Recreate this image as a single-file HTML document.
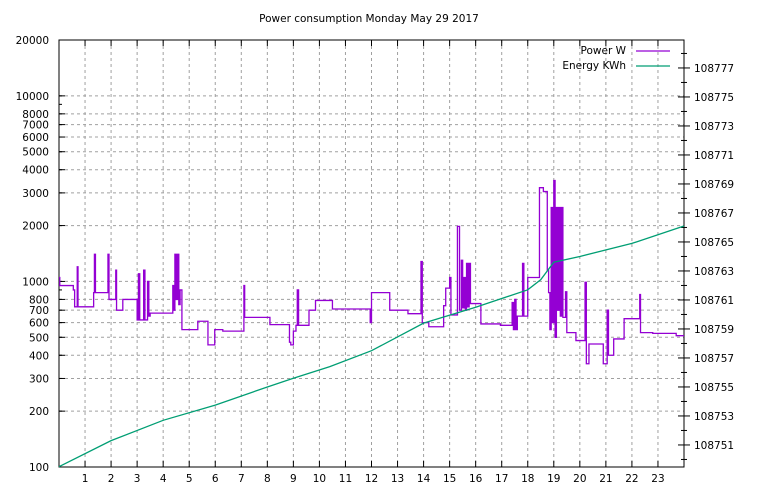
<!DOCTYPE html>
<html><head><meta charset="utf-8"><style>
body{margin:0;background:#fff}
svg{display:block;font-family:"DejaVu Sans","Liberation Sans",sans-serif;font-size:10.5px}
</style></head><body>
<svg id="chart" width="768" height="500">
<text x="369" y="22" text-anchor="middle">Power consumption Monday May 29 2017</text>
</svg>
<script>
const hours=[0,0.03,0.5,0.55,0.6,0.7,0.73,1.3,1.33,1.36,1.4,1.85,1.88,1.92,2.15,2.18,2.21,2.45,3.0,3.05,3.1,3.2,3.25,3.3,3.4,3.45,3.5,4.37,4.42,4.45,4.5,4.55,4.6,4.65,4.72,5.33,5.72,5.98,6.29,7.1,7.13,8.1,8.85,8.9,9.0,9.1,9.15,9.2,9.6,9.85,10.5,11.95,12.0,12.7,13.4,13.9,13.95,14.2,14.77,14.85,15.0,15.05,15.3,15.38,15.45,15.5,15.55,15.6,15.65,15.7,15.75,15.8,16.2,16.95,17.4,17.45,17.5,17.55,17.6,17.8,17.85,18.0,18.45,18.6,18.75,18.8,18.85,18.9,18.95,19.0,19.05,19.1,19.15,19.2,19.25,19.3,19.35,19.45,19.5,19.85,20.2,20.25,20.35,20.9,21.05,21.1,21.3,21.7,22.3,22.33,22.8,23.7,24];
const watts=[1050,950,950,900,730,1200,730,730,870,1400,870,870,1400,800,800,1150,700,800,620,1100,620,620,1150,620,1000,650,675,950,700,1400,800,1400,750,900,550,610,455,550,540,950,640,585,470,455,540,580,900,580,700,790,710,600,870,700,670,1280,600,570,740,920,1050,660,1980,700,1300,720,1050,700,1250,730,1250,760,590,580,770,550,800,550,650,1250,650,1050,3200,3050,1150,870,550,2500,600,3500,500,2500,700,2500,650,2500,640,880,530,480,990,360,460,360,700,400,490,630,850,530,525,510,510];
const eHours=[0,2,4,6,8,9,10.4,12,14,16,17,18,18.5,19,20,22,24];
const eValues=[108749.5,108751.3,108752.7,108753.75,108755,108755.6,108756.4,108757.5,108759.4,108760.5,108761.1,108761.7,108762.4,108763.6,108764.0,108764.9,108766.1];
const yTicks=[100,200,300,400,500,600,700,800,1000,2000,3000,4000,5000,6000,7000,8000,10000,20000];
const y2Ticks=[108751,108753,108755,108757,108759,108761,108763,108765,108767,108769,108771,108773,108775,108777];
const xTicks=[1,2,3,4,5,6,7,8,9,10,11,12,13,14,15,16,17,18,19,20,21,22,23];

const L=59,R=684,T=40,B=467;
const X=h=>L+(h/24)*(R-L);
const Y=w=>B-(Math.log10(w)-2)/(Math.log10(20000)-2)*(B-T);
const Y2=v=>B-(v-108749.48)*14.5;
const svg=document.getElementById('chart');
const NS='http://www.w3.org/2000/svg';
function mk(t,a,txt){const e=document.createElementNS(NS,t);for(const k in a)e.setAttribute(k,a[k]);if(txt!==undefined)e.textContent=txt;svg.appendChild(e);return e;}

xTicks.forEach(h=>{const g=mk('line',{x1:X(h),x2:X(h),y1:T,y2:B,stroke:'#a0a0a0','stroke-dasharray':'3,3','stroke-width':1});

});
yTicks.forEach(w=>{const g=mk('line',{x1:L,x2:R,y1:Y(w),y2:Y(w),stroke:'#a0a0a0','stroke-dasharray':'3,3','stroke-width':1});

});

for(let d=100;d<=10000;d*=10){for(let k=1;k<10;k++){const w=d*k;if(w>20000)break;
const m=mk('line',{x1:L,x2:L+3,y1:Y(w),y2:Y(w),stroke:'#000'});

}}
yTicks.forEach(w=>{const t=mk('line',{x1:L,x2:L+6,y1:Y(w),y2:Y(w),stroke:'#000'});


const lb=mk('text',{x:L-10,y:Y(w)+4,'text-anchor':'end'},String(w));

});
xTicks.forEach(h=>{const t=mk('line',{x1:X(h),x2:X(h),y1:B,y2:B-6,stroke:'#000'});


const t2=mk('line',{x1:X(h),x2:X(h),y1:T,y2:T+6,stroke:'#000'});


const lb=mk('text',{x:X(h),y:B+15,'text-anchor':'middle'},String(h));

});
for(let v=108750;v<=108778;v++){const maj=v%2===1;
const t=mk('line',{x1:maj?R-6:R-3,x2:maj?R+6:R+3,y1:Y2(v),y2:Y2(v),stroke:'#000'});

}
y2Ticks.forEach(v=>{const lb=mk('text',{x:R+10,y:Y2(v)+4},String(v));

});

const fr=mk('rect',{x:L,y:T,width:R-L,height:B-T,fill:'none',stroke:'#000','stroke-width':1});



let d='';
for(let i=0;i<hours.length;i++){const x=X(hours[i]),y=Y(watts[i]);
if(i===0)d+='M'+x+' '+y;else d+='H'+x+'V'+y;}
const p=mk('path',{d:d,fill:'none',stroke:'#9400d3','stroke-width':1.3});


const pts=eHours.map((h,i)=>X(h)+','+Y2(eValues[i])).join(' ');
const e=mk('polyline',{points:pts,fill:'none',stroke:'#009e73','stroke-width':1.3});



const l1=mk('text',{x:626,y:54,'text-anchor':'end'},'Power W');


const l1l=mk('line',{x1:636,x2:670,y1:51,y2:51,stroke:'#9400d3','stroke-width':1.3});


const l2=mk('text',{x:626,y:69,'text-anchor':'end'},'Energy KWh');


const l2l=mk('line',{x1:636,x2:670,y1:66,y2:66,stroke:'#009e73','stroke-width':1.3});


</script>
</body></html>
